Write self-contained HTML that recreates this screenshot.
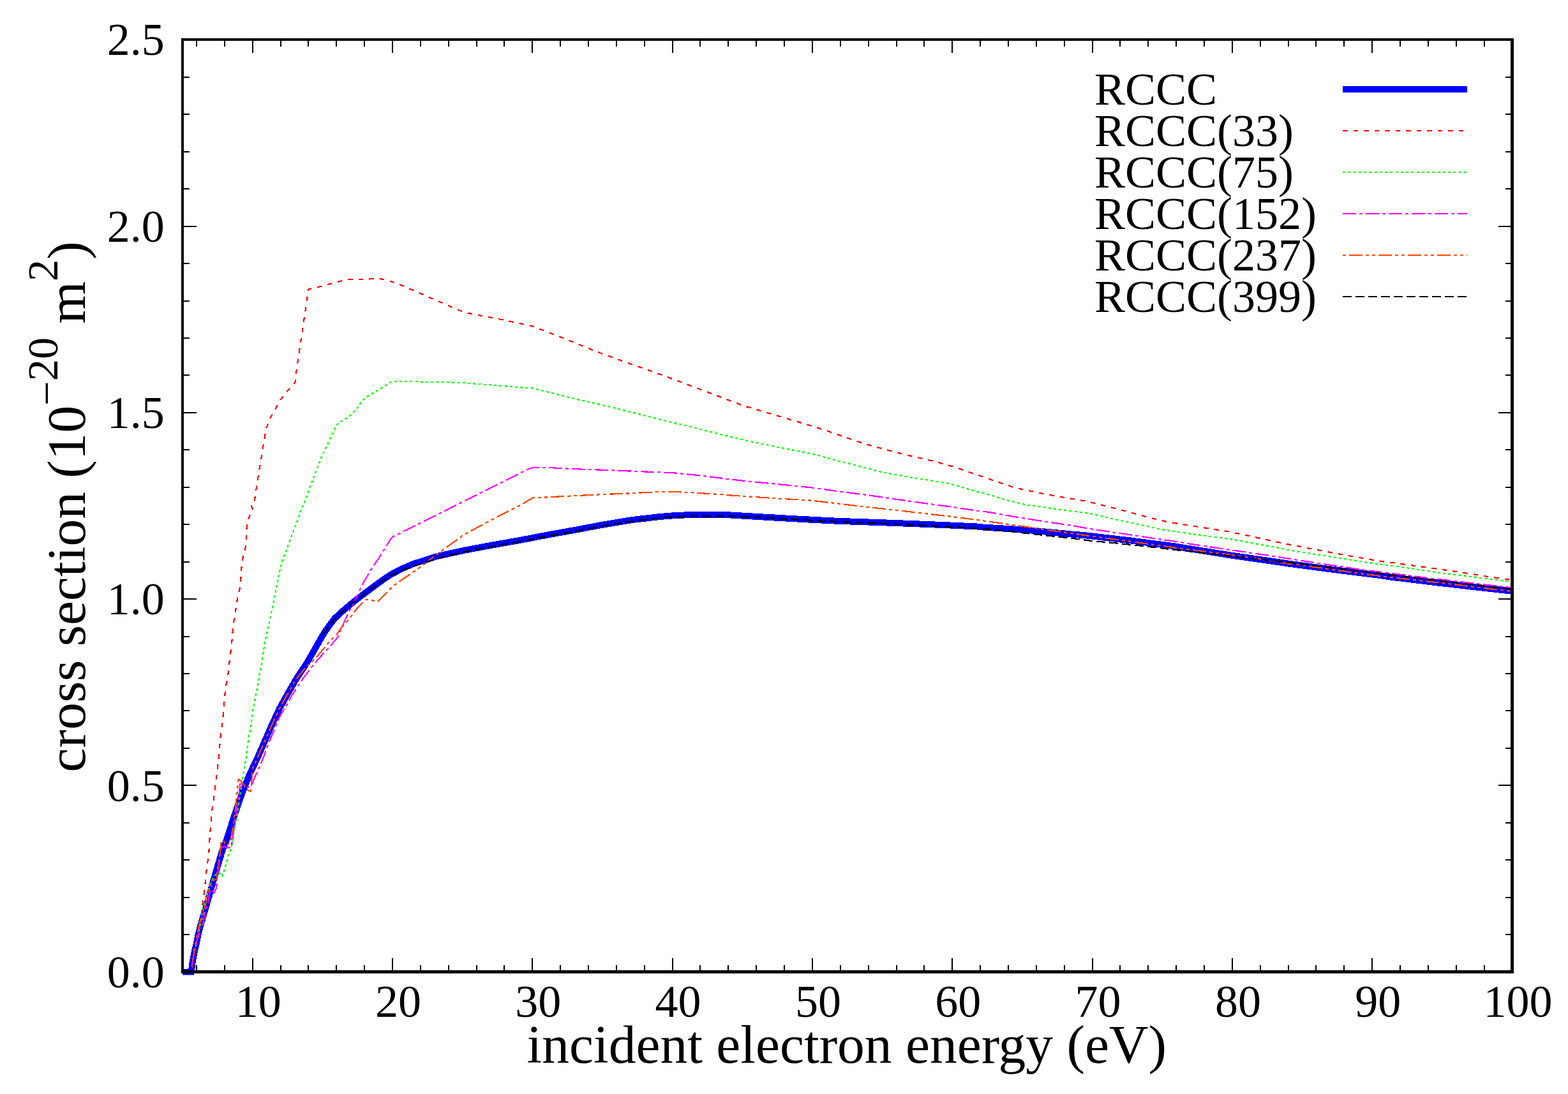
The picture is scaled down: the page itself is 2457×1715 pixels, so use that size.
<!DOCTYPE html>
<html lang="en"><head><meta charset="utf-8"><title>RCCC cross section</title>
<style>
html,body{margin:0;padding:0;background:#fff;}
body{width:2457px;height:1715px;overflow:hidden;}
svg{display:block;}
text{font-family:"Liberation Serif","DejaVu Serif",serif;fill:#000;}
.tk{font-size:72px;}
.lb{font-size:85.5px;}
.c{fill:none;stroke-linejoin:round;stroke-linecap:butt;}
</style></head><body>
<svg xmlns="http://www.w3.org/2000/svg" width="2457" height="1715" viewBox="0 0 2457 1715">
<rect x="0" y="0" width="2457" height="1715" fill="#fff"/>
<defs><clipPath id="pc"><rect x="284.0" y="60.0" width="2087.5" height="1468.5"/></clipPath></defs>
<g clip-path="url(#pc)" shape-rendering="crispEdges">
<path class="c" style="stroke-linejoin:miter;stroke-miterlimit:1.6" stroke="#0000ff" stroke-width="10" d="M286.0 1523.5 L299.6 1523.5 L300.6 1516.5 L302.1 1505.5 L304.9 1491.5 L307.7 1479.3 L310.9 1464.1 L313.9 1452.0 L318.0 1437.9 L325.7 1411.7 L332.9 1385.5 L340.6 1359.3 L348.4 1333.1 L354.0 1319.6 L362.5 1293.4 L371.0 1267.2 L380.2 1241.0 L390.7 1214.8 L403.2 1188.6 L414.7 1162.4 L426.1 1136.2 L438.3 1110.0 L450.7 1087.8 L464.9 1063.3 L481.1 1038.9 L495.1 1014.4 L509.2 990.0 L524.5 969.3 L542.0 953.4 L559.5 939.1 L576.9 926.0 L594.4 913.0 L611.9 901.0 L629.3 891.8 L646.8 884.3 L664.3 878.6 L683.7 872.4 L727.3 862.8 L771.0 854.6 L814.7 846.9 L858.3 838.5 L902.0 830.7 L945.7 822.4 L989.3 815.2 L1033.0 810.1 L1054.8 808.3 L1076.7 807.3 L1098.5 806.9 L1120.3 806.8 L1140.0 807.2 L1183.7 809.8 L1227.3 812.3 L1271.0 814.7 L1314.7 816.9 L1358.3 818.4 L1402.0 820.0 L1445.7 821.7 L1489.3 823.5 L1533.0 825.6 L1540.0 826.5 L1610.0 830.9 L1680.0 837.6 L1700.0 839.2 L1770.0 847.2 L1840.0 856.3 L1860.0 859.5 L1930.0 870.7 L2000.0 880.7 L2020.0 883.7 L2090.0 893.0 L2160.0 901.7 L2180.0 904.7 L2250.0 913.2 L2320.0 921.3 L2340.0 923.5 L2369.5 926.7"/>
<path class="c" stroke="#ff0000" stroke-width="2.2" stroke-dasharray="7.5 9" d="M300.6 1516.5 L302.1 1505.5 L304.9 1491.5 L307.7 1479.3 L310.9 1464.1 L313.9 1450.0 L316.2 1432.0 L317.5 1418.0 L319.3 1405.0 L321.3 1388.0 L322.6 1372.4 L325.2 1352.8 L327.2 1339.7 L328.2 1320.0 L329.1 1307.8 L331.7 1273.8 L334.4 1256.7 L336.3 1242.3 L338.3 1224.0 L340.3 1209.6 L342.2 1192.5 L343.8 1175.5 L345.1 1159.8 L347.1 1142.8 L349.2 1127.0 L350.7 1110.0 L353.4 1078.0 L356.9 1062.3 L358.6 1044.8 L360.7 1029.1 L362.4 1013.4 L364.2 997.7 L365.1 980.2 L368.2 966.2 L370.0 950.5 L373.1 933.1 L376.9 917.3 L377.8 899.9 L379.0 882.4 L381.3 870.2 L385.2 856.2 L386.0 837.0 L386.9 822.0 L391.8 806.3 L396.2 799.3 L393.2 790.6 L398.8 785.3 L401.0 769.6 L403.7 752.1 L406.3 736.4 L409.3 719.0 L411.4 705.0 L414.1 689.3 L417.1 671.8 L423.0 656.0 L431.0 642.3 L438.8 627.5 L448.8 614.9 L460.1 601.8 L463.0 598.3 L463.8 586.5 L466.1 570.0 L468.6 553.7 L470.8 538.0 L473.4 522.3 L475.7 505.7 L478.2 489.1 L480.4 473.4 L483.1 455.9 L483.4 453.3 L496.2 450.7 L512.8 446.3 L528.5 441.9 L544.2 438.4 L559.9 437.7 L576.5 437.6 L592.2 436.3 L608.8 439.7 L624.5 445.4 L639.4 451.5 L654.2 458.0 L670.0 465.0 L684.8 471.3 L699.6 477.7 L715.0 484.7 L730.2 490.2 L778.3 499.4 L828.5 509.9 L835.0 511.6 L889.6 532.8 L933.3 550.7 L981.3 568.2 L1027.2 584.1 L1073.0 601.1 L1118.9 618.6 L1164.7 636.0 L1196.8 645.5 L1244.8 659.5 L1292.8 674.3 L1336.5 689.6 L1369.3 699.9 L1417.3 712.5 L1465.3 723.5 L1495.9 732.2 L1540.0 747.4 L1588.9 764.2 L1637.8 774.7 L1686.7 783.1 L1702.8 785.9 L1733.5 793.4 L1765.7 801.8 L1797.1 810.4 L1829.3 818.2 L1860.5 823.1 L1893.5 828.4 L1925.7 833.4 L1957.8 840.2 L1990.0 847.2 L2021.0 853.8 L2055.0 860.3 L2087.0 866.3 L2119.2 872.2 L2151.4 877.8 L2168.0 880.5 L2183.5 882.3 L2216.3 886.9 L2249.2 891.4 L2282.0 896.1 L2313.5 901.0 L2330.2 903.8 L2369.5 909.3"/>
<path class="c" stroke="#00ff00" stroke-width="2.2" stroke-dasharray="4 4.25" d="M300.6 1516.5 L302.1 1505.5 L304.9 1491.5 L307.7 1479.3 L310.9 1464.1 L313.5 1452.0 L315.5 1437.0 L318.0 1425.0 L322.0 1410.0 L328.0 1392.0 L333.0 1378.0 L337.6 1371.1 L344.2 1368.5 L348.1 1374.4 L351.4 1364.5 L353.4 1356.7 L355.3 1348.8 L357.3 1342.3 L361.2 1333.1 L363.8 1323.9 L365.2 1309.1 L367.8 1296.0 L370.4 1285.5 L373.0 1269.8 L375.0 1254.1 L376.9 1241.0 L378.3 1234.5 L380.9 1214.8 L382.8 1204.3 L384.1 1196.5 L385.5 1188.6 L387.4 1172.9 L389.4 1157.2 L391.4 1149.3 L393.3 1136.2 L395.3 1120.5 L396.0 1114.0 L397.0 1109.5 L400.5 1092.0 L404.0 1074.5 L406.6 1057.1 L409.3 1043.1 L411.9 1027.4 L414.5 1009.9 L418.0 994.2 L421.5 978.5 L424.1 964.5 L427.6 948.8 L431.1 931.3 L434.6 913.8 L438.1 896.4 L441.6 882.4 L446.8 868.4 L452.9 851.0 L458.2 837.0 L462.5 825.5 L466.9 813.3 L469.5 806.3 L472.1 797.6 L475.6 790.6 L479.1 782.7 L481.7 774.8 L484.4 767.0 L487.0 759.1 L490.5 752.1 L493.1 743.4 L496.6 736.4 L499.2 728.6 L501.8 720.7 L505.3 712.8 L508.8 705.9 L512.3 698.9 L515.8 691.0 L519.3 683.1 L522.8 675.3 L526.3 668.3 L530.5 663.0 L537.4 658.8 L545.3 654.2 L551.4 649.4 L556.6 642.9 L561.9 636.6 L566.7 629.8 L571.9 623.7 L578.5 619.7 L585.4 615.6 L592.4 611.3 L599.9 606.9 L606.8 602.5 L613.8 598.2 L624.5 597.9 L642.0 597.9 L659.5 598.6 L676.9 598.8 L694.4 599.1 L711.9 599.7 L728.0 600.3 L745.1 601.7 L767.3 603.3 L811.0 607.0 L835.0 608.6 L867.8 616.9 L898.3 624.5 L931.1 632.1 L963.8 639.8 L996.6 647.9 L1029.3 656.2 L1055.5 662.7 L1083.9 669.3 L1116.7 677.8 L1149.4 686.1 L1183.7 693.6 L1227.3 702.7 L1273.2 711.5 L1314.7 722.8 L1358.3 733.9 L1380.2 739.8 L1423.8 747.9 L1467.5 754.7 L1489.3 758.4 L1533.0 771.5 L1540.0 772.6 L1575.0 783.3 L1609.9 791.8 L1679.8 801.2 L1700.0 804.0 L1707.0 804.9 L1747.5 814.0 L1787.4 822.9 L1818.8 829.7 L1859.6 835.9 L1892.0 840.3 L1932.7 845.9 L1965.5 851.9 L2013.7 860.8 L2022.0 862.8 L2062.0 869.1 L2102.5 875.4 L2143.7 882.0 L2179.6 886.6 L2216.3 891.9 L2256.9 898.1 L2297.4 902.8 L2338.6 908.4 L2369.5 912.3"/>
<path class="c" stroke="#ff00ff" stroke-width="2.2" stroke-dasharray="21 5 5 5" d="M300.6 1516.5 L302.1 1505.5 L304.0 1494.0 L303.0 1490.0 L307.0 1484.0 L309.0 1473.0 L313.0 1460.0 L312.5 1453.0 L318.0 1451.0 L319.0 1443.0 L321.0 1432.0 L325.0 1418.0 L327.0 1408.0 L329.0 1396.0 L331.0 1388.0 L335.0 1400.0 L339.0 1393.0 L340.5 1376.0 L342.0 1363.0 L343.5 1352.0 L345.0 1335.0 L346.0 1329.0 L351.0 1327.0 L356.0 1329.0 L362.5 1328.0 L364.0 1318.0 L366.0 1302.0 L368.0 1288.0 L371.0 1268.0 L373.0 1255.0 L375.0 1240.0 L376.3 1229.2 L380.9 1229.2 L388.7 1234.5 L395.9 1227.9 L397.9 1221.4 L405.8 1204.3 L412.3 1188.6 L418.9 1170.3 L422.8 1161.1 L425.4 1154.5 L432.6 1137.5 L435.2 1129.7 L439.8 1120.5 L446.4 1110.0 L458.2 1088.5 L472.1 1067.6 L489.6 1044.0 L500.1 1031.7 L512.3 1018.6 L524.5 1004.7 L529.8 997.7 L534.1 986.3 L540.3 973.2 L549.0 954.0 L559.5 934.8 L568.2 915.6 L580.4 894.6 L594.4 873.7 L603.1 859.7 L611.9 845.7 L615.4 841.4 L634.6 831.7 L640.0 829.2 L827.8 735.3 L834.3 733.1 L854.7 732.6 L880.9 734.3 L918.0 735.9 L950.7 736.9 L985.7 738.5 L1025.0 740.0 L1055.5 741.3 L1094.8 745.2 L1127.6 749.3 L1160.3 753.3 L1183.7 755.6 L1227.3 759.9 L1271.0 764.3 L1314.7 770.4 L1358.3 775.9 L1402.0 782.4 L1445.7 788.5 L1489.3 794.4 L1533.0 801.0 L1545.6 802.3 L1599.4 811.7 L1637.8 817.7 L1679.8 823.9 L1703.0 828.2 L1740.5 833.9 L1776.9 839.2 L1813.2 844.8 L1848.0 849.7 L1866.3 853.0 L1884.5 855.6 L1920.0 860.9 L1955.0 866.0 L1991.4 871.3 L2022.8 876.3 L2062.0 882.4 L2098.3 887.6 L2133.2 893.2 L2170.2 897.4 L2187.7 899.8 L2205.9 902.1 L2241.5 906.6 L2277.8 910.8 L2312.8 915.0 L2331.6 917.1 L2369.5 921.3"/>
<path class="c" stroke="#ff4500" stroke-width="2.2" stroke-dasharray="5 5 21 5 5 5" d="M300.6 1516.5 L302.1 1505.5 L304.9 1491.5 L306.5 1478.0 L309.0 1466.0 L311.0 1455.0 L313.0 1446.0 L315.0 1437.0 L317.0 1441.0 L319.0 1432.0 L321.5 1420.0 L324.0 1408.0 L326.5 1396.0 L329.5 1381.0 L339.6 1378.5 L340.5 1368.0 L342.0 1356.0 L344.0 1344.0 L345.5 1331.0 L346.5 1321.0 L350.0 1318.0 L355.0 1326.0 L361.0 1319.5 L363.5 1305.0 L366.0 1290.0 L368.0 1275.0 L370.0 1258.0 L371.7 1241.0 L373.7 1221.4 L377.0 1224.0 L392.7 1243.6 L394.0 1228.0 L396.0 1203.5 L403.2 1188.6 L414.7 1162.4 L426.1 1136.2 L438.3 1110.0 L450.7 1087.8 L464.9 1063.3 L477.4 1048.3 L498.3 1027.4 L515.8 1006.4 L528.0 994.2 L535.0 983.7 L545.5 972.4 L559.5 954.0 L573.4 939.7 L592.7 942.7 L604.9 930.4 L611.9 922.6 L622.4 913.8 L638.1 903.4 L650.3 894.6 L664.3 885.0 L683.7 869.6 L727.3 838.0 L771.0 814.6 L814.7 792.3 L835.4 780.1 L854.7 779.5 L898.3 777.3 L942.0 775.2 L985.7 773.4 L1029.3 771.2 L1054.8 770.9 L1083.9 772.3 L1127.6 775.0 L1146.6 776.7 L1183.7 779.1 L1227.3 782.0 L1271.0 784.6 L1314.7 789.6 L1358.3 794.9 L1402.0 799.4 L1445.7 804.7 L1489.3 809.7 L1533.0 815.2 L1540.0 816.3 L1582.0 822.2 L1631.0 829.2 L1680.0 836.2 L1701.5 839.3 L1770.0 848.6 L1814.6 854.9 L1859.5 861.0 L1905.4 866.7 L1954.3 873.4 L1990.7 879.0 L2018.6 883.6 L2041.0 886.2 L2087.0 892.8 L2131.8 899.1 L2178.8 905.0 L2224.7 910.1 L2270.8 915.3 L2314.9 920.6 L2333.7 923.0 L2369.5 927.0"/>
<path class="c" stroke="#000000" stroke-width="2.2" stroke-dasharray="14 6" d="M506.8 994.9 L509.2 990.7 L524.5 970.1 L542.0 954.1 L559.5 939.9 L576.9 926.8 L594.4 913.8 L611.9 902.4 L629.3 894.1 L646.8 887.7 L664.3 882.4 L683.7 875.9 L727.3 865.0 L771.0 856.8 L814.7 848.9 L858.3 840.5 L902.0 832.7 L945.7 824.4 L989.3 817.2 L1033.0 812.1 L1054.8 810.3 L1076.7 809.3 L1098.5 808.8 L1120.3 808.6 L1140.0 808.8 L1183.7 811.1 L1227.3 813.3 L1271.0 815.7 L1314.7 818.0 L1358.3 819.6 L1402.0 821.6 L1445.7 823.7 L1489.3 825.8 L1533.0 828.2 L1553.0 829.9 L1630.0 838.4 L1690.0 845.1 L1707.7 847.6 L1747.5 851.4 L1787.4 855.6 L1825.8 860.1 L1846.8 862.6 L1865.6 864.6 L1904.0 868.8 L1942.5 873.0 L1982.3 877.6 L2020.7 882.1 L2060.5 886.9 L2099.7 891.4 L2138.8 896.1 L2179.0 900.9 L2216.0 905.5 L2257.0 910.4 L2295.3 915.0 L2333.7 919.5 L2369.5 923.7"/>
</g>
<path shape-rendering="crispEdges" fill="#000" fill-rule="evenodd" d="M284 60 H2372 V1526 H284 Z M288 64 V1521 H2367 V64 Z"/>
<path shape-rendering="crispEdges" stroke="#000" stroke-width="2" fill="none" d="M308 62.0 v11.0 M308 1523.5 v-10.7 M352 62.0 v11.0 M352 1523.5 v-10.7 M396 62.0 v21.0 M396 1523.5 v-21.3 M440 62.0 v11.0 M440 1523.5 v-10.7 M483 62.0 v11.0 M483 1523.5 v-10.7 M527 62.0 v11.0 M527 1523.5 v-10.7 M571 62.0 v11.0 M571 1523.5 v-10.7 M615 62.0 v21.0 M615 1523.5 v-21.3 M659 62.0 v11.0 M659 1523.5 v-10.7 M703 62.0 v11.0 M703 1523.5 v-10.7 M747 62.0 v11.0 M747 1523.5 v-10.7 M790 62.0 v11.0 M790 1523.5 v-10.7 M834 62.0 v21.0 M834 1523.5 v-21.3 M878 62.0 v11.0 M878 1523.5 v-10.7 M922 62.0 v11.0 M922 1523.5 v-10.7 M966 62.0 v11.0 M966 1523.5 v-10.7 M1010 62.0 v11.0 M1010 1523.5 v-10.7 M1054 62.0 v21.0 M1054 1523.5 v-21.3 M1097 62.0 v11.0 M1097 1523.5 v-10.7 M1141 62.0 v11.0 M1141 1523.5 v-10.7 M1185 62.0 v11.0 M1185 1523.5 v-10.7 M1229 62.0 v11.0 M1229 1523.5 v-10.7 M1273 62.0 v21.0 M1273 1523.5 v-21.3 M1317 62.0 v11.0 M1317 1523.5 v-10.7 M1361 62.0 v11.0 M1361 1523.5 v-10.7 M1405 62.0 v11.0 M1405 1523.5 v-10.7 M1448 62.0 v11.0 M1448 1523.5 v-10.7 M1492 62.0 v21.0 M1492 1523.5 v-21.3 M1536 62.0 v11.0 M1536 1523.5 v-10.7 M1580 62.0 v11.0 M1580 1523.5 v-10.7 M1624 62.0 v11.0 M1624 1523.5 v-10.7 M1668 62.0 v11.0 M1668 1523.5 v-10.7 M1712 62.0 v21.0 M1712 1523.5 v-21.3 M1755 62.0 v11.0 M1755 1523.5 v-10.7 M1799 62.0 v11.0 M1799 1523.5 v-10.7 M1843 62.0 v11.0 M1843 1523.5 v-10.7 M1887 62.0 v11.0 M1887 1523.5 v-10.7 M1931 62.0 v21.0 M1931 1523.5 v-21.3 M1975 62.0 v11.0 M1975 1523.5 v-10.7 M2019 62.0 v11.0 M2019 1523.5 v-10.7 M2062 62.0 v11.0 M2062 1523.5 v-10.7 M2106 62.0 v11.0 M2106 1523.5 v-10.7 M2150 62.0 v21.0 M2150 1523.5 v-21.3 M2194 62.0 v11.0 M2194 1523.5 v-10.7 M2238 62.0 v11.0 M2238 1523.5 v-10.7 M2282 62.0 v11.0 M2282 1523.5 v-10.7 M2326 62.0 v11.0 M2326 1523.5 v-10.7 M286.0 1465 h11.0 M2369.5 1465 h-10.7 M286.0 1407 h11.0 M2369.5 1407 h-10.7 M286.0 1348 h11.0 M2369.5 1348 h-10.7 M286.0 1290 h11.0 M2369.5 1290 h-10.7 M286.0 1231 h22.0 M2369.5 1231 h-21.3 M286.0 1173 h11.0 M2369.5 1173 h-10.7 M286.0 1114 h11.0 M2369.5 1114 h-10.7 M286.0 1056 h11.0 M2369.5 1056 h-10.7 M286.0 998 h11.0 M2369.5 998 h-10.7 M286.0 939 h22.0 M2369.5 939 h-21.3 M286.0 881 h11.0 M2369.5 881 h-10.7 M286.0 822 h11.0 M2369.5 822 h-10.7 M286.0 764 h11.0 M2369.5 764 h-10.7 M286.0 705 h11.0 M2369.5 705 h-10.7 M286.0 647 h22.0 M2369.5 647 h-21.3 M286.0 588 h11.0 M2369.5 588 h-10.7 M286.0 530 h11.0 M2369.5 530 h-10.7 M286.0 472 h11.0 M2369.5 472 h-10.7 M286.0 413 h11.0 M2369.5 413 h-10.7 M286.0 355 h22.0 M2369.5 355 h-21.3 M286.0 296 h11.0 M2369.5 296 h-10.7 M286.0 238 h11.0 M2369.5 238 h-10.7 M286.0 179 h11.0 M2369.5 179 h-10.7 M286.0 121 h11.0 M2369.5 121 h-10.7"/>
<line shape-rendering="crispEdges" x1="2104" y1="140" x2="2299" y2="140" stroke="#0000ff" stroke-width="10"/>
<text class="tk" x="1715" y="164">RCCC</text>
<line shape-rendering="crispEdges" x1="2104" y1="205" x2="2299" y2="205" stroke="#ff0000" stroke-width="2" stroke-dasharray="7.5 9"/>
<text class="tk" x="1715" y="229">RCCC(33)</text>
<line shape-rendering="crispEdges" x1="2104" y1="270" x2="2299" y2="270" stroke="#00ff00" stroke-width="2" stroke-dasharray="4 4.25"/>
<text class="tk" x="1715" y="294">RCCC(75)</text>
<line shape-rendering="crispEdges" x1="2104" y1="335" x2="2299" y2="335" stroke="#ff00ff" stroke-width="2" stroke-dasharray="21 5 5 5"/>
<text class="tk" x="1715" y="359">RCCC(152)</text>
<line shape-rendering="crispEdges" x1="2104" y1="400" x2="2299" y2="400" stroke="#ff4500" stroke-width="2" stroke-dasharray="5 5 21 5 5 5"/>
<text class="tk" x="1715" y="424">RCCC(237)</text>
<line shape-rendering="crispEdges" x1="2104" y1="465" x2="2299" y2="465" stroke="#000000" stroke-width="2" stroke-dasharray="14 6"/>
<text class="tk" x="1715" y="489">RCCC(399)</text>
<text class="tk" text-anchor="end" x="257.7" y="1547.8">0.0</text>
<text class="tk" text-anchor="end" x="257.7" y="1255.5">0.5</text>
<text class="tk" text-anchor="end" x="257.7" y="963.2">1.0</text>
<text class="tk" text-anchor="end" x="257.7" y="670.9">1.5</text>
<text class="tk" text-anchor="end" x="257.7" y="378.6">2.0</text>
<text class="tk" text-anchor="end" x="257.7" y="86.3">2.5</text>
<text class="tk" text-anchor="middle" x="404.7" y="1594">10</text>
<text class="tk" text-anchor="middle" x="624.0" y="1594">20</text>
<text class="tk" text-anchor="middle" x="843.3" y="1594">30</text>
<text class="tk" text-anchor="middle" x="1062.6" y="1594">40</text>
<text class="tk" text-anchor="middle" x="1281.9" y="1594">50</text>
<text class="tk" text-anchor="middle" x="1501.2" y="1594">60</text>
<text class="tk" text-anchor="middle" x="1720.6" y="1594">70</text>
<text class="tk" text-anchor="middle" x="1939.9" y="1594">80</text>
<text class="tk" text-anchor="middle" x="2159.2" y="1594">90</text>
<text class="tk" text-anchor="middle" x="2378.5" y="1594">100</text>
<text class="lb" text-anchor="middle" x="1326.8" y="1666.4">incident electron energy (eV)</text>
<text class="lb" text-anchor="middle" transform="translate(133 794.3) rotate(-90)">cross section (10<tspan font-size="68.4" dy="-37">−</tspan><tspan font-size="68.4" dy="-6">20</tspan><tspan dy="43"> m</tspan><tspan font-size="68.4" dy="-43">2</tspan><tspan dy="43">)</tspan></text>
</svg>
</body></html>
